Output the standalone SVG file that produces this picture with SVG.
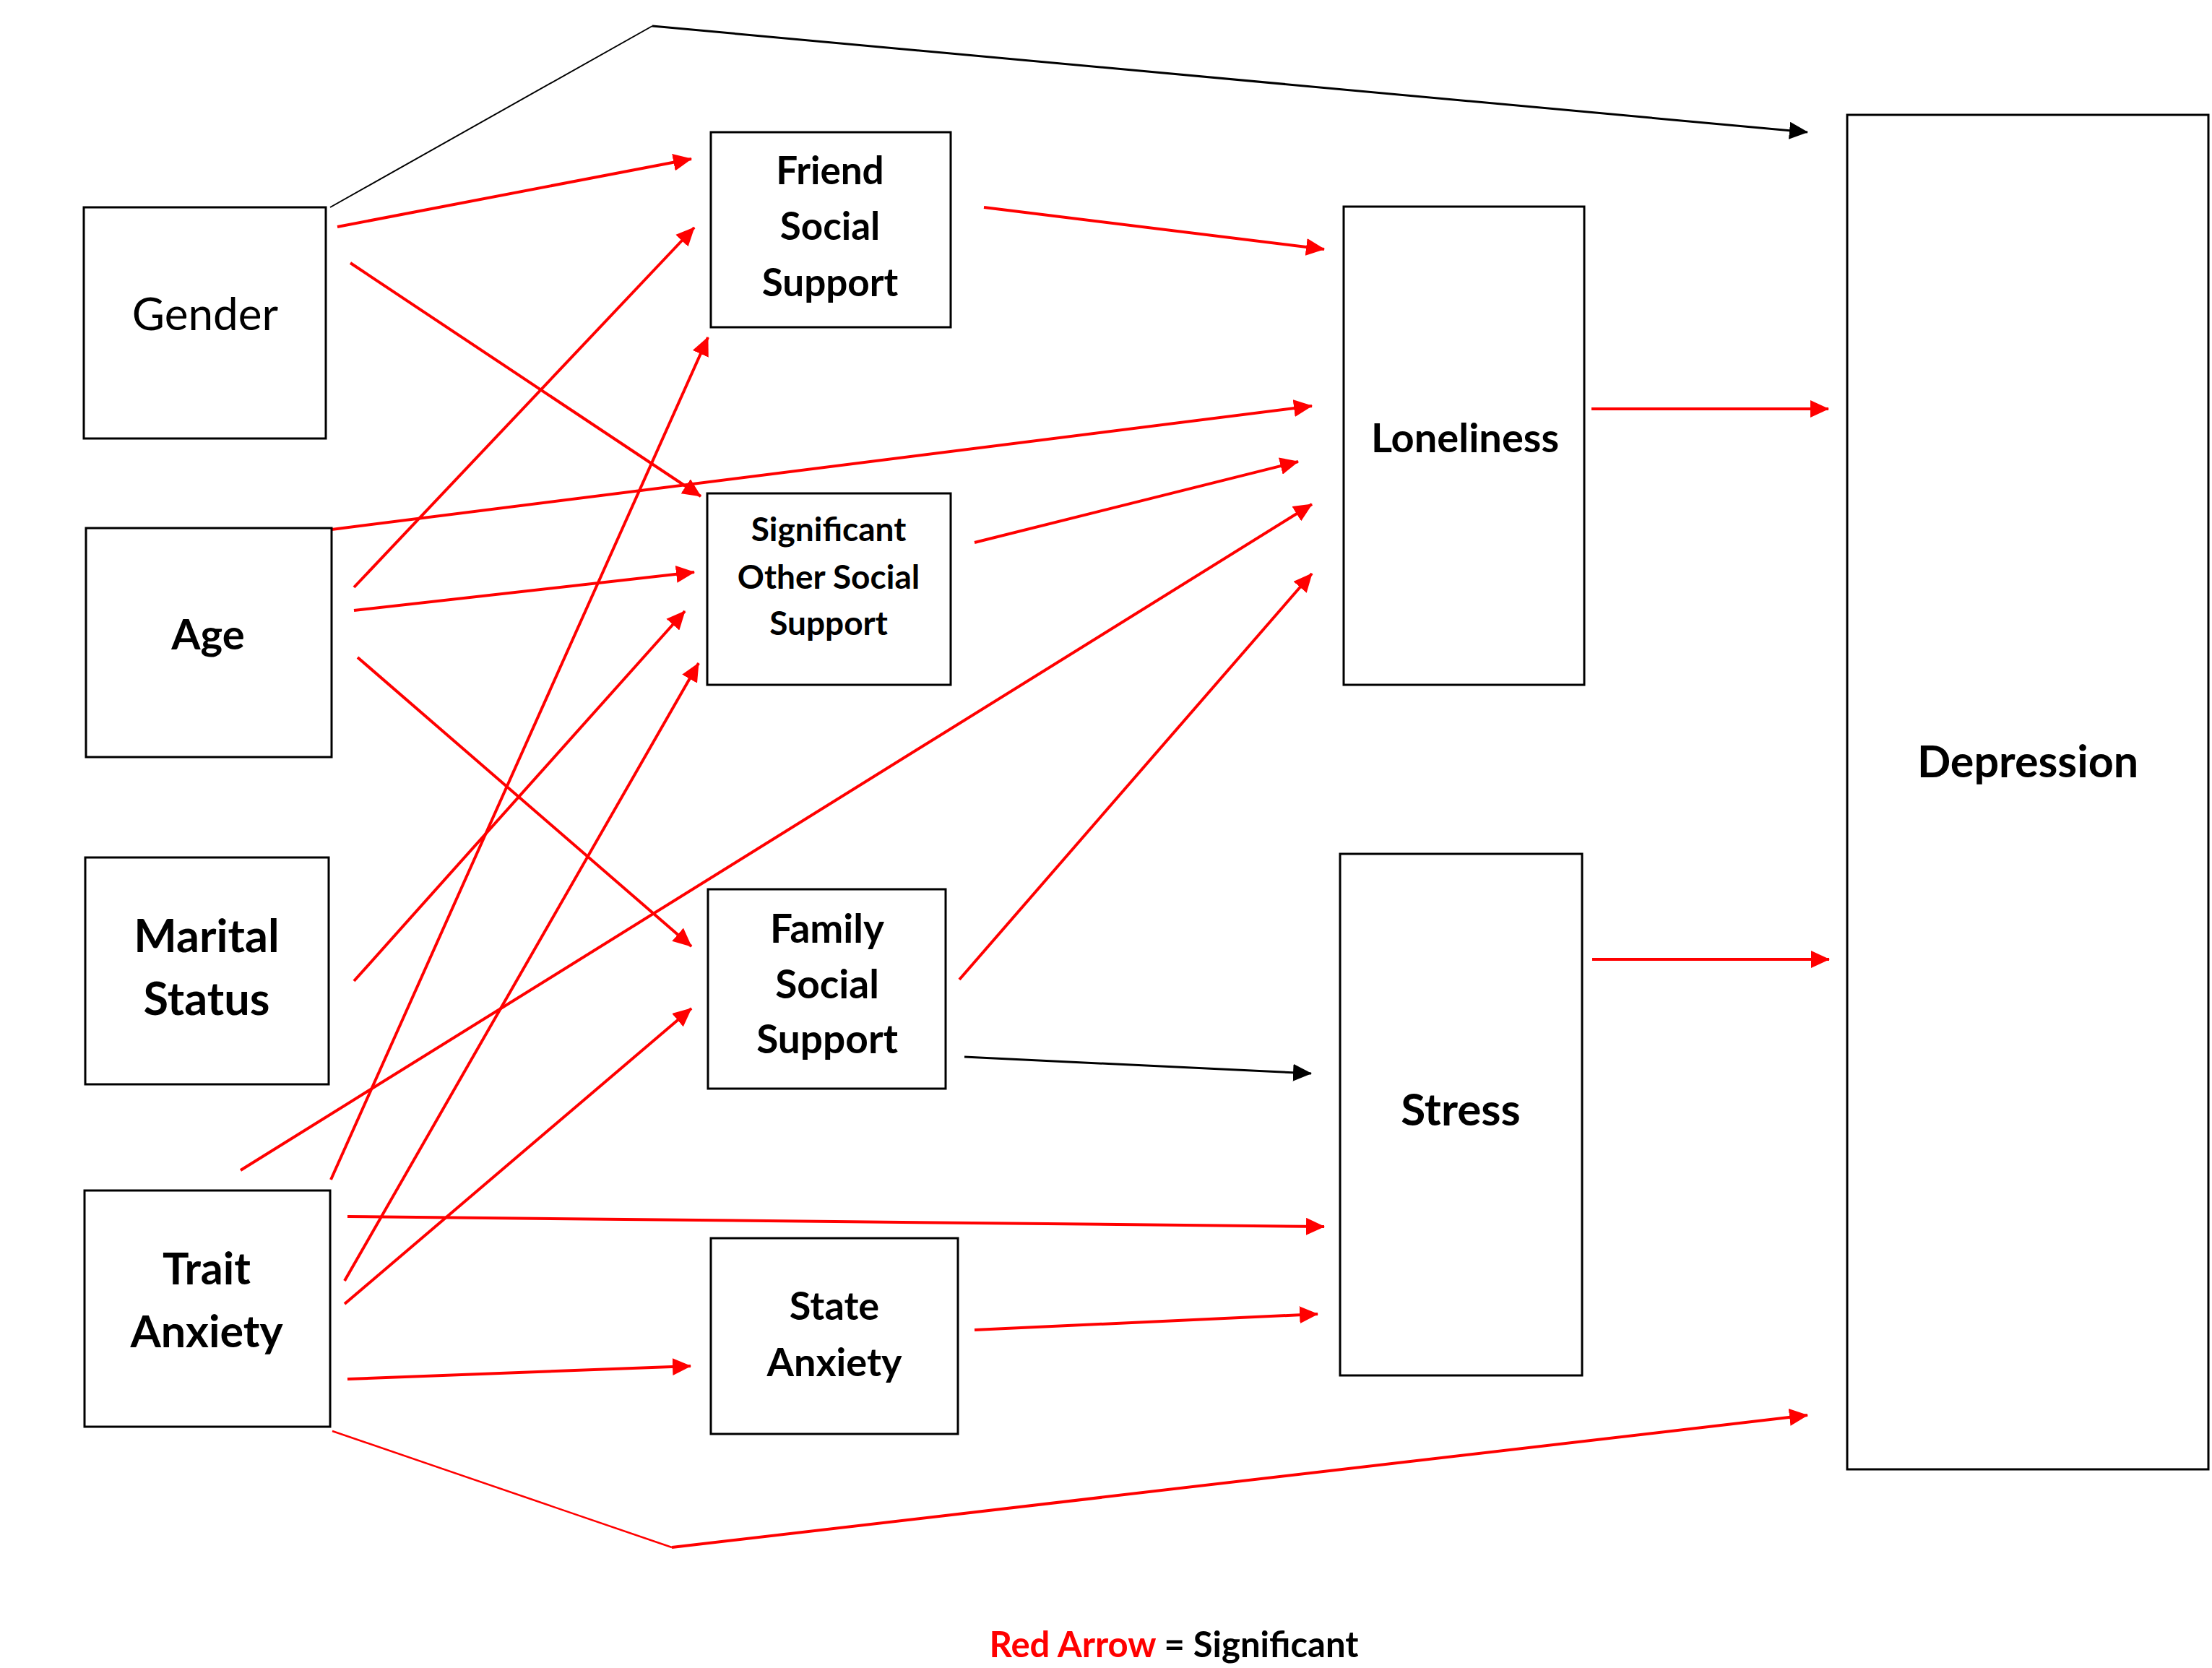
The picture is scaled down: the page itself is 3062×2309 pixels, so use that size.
<svg xmlns="http://www.w3.org/2000/svg" width="3062" height="2309" viewBox="0 0 3062 2309">
<style>
.box{fill:#fff;stroke:#000;stroke-width:3}
.t{font-family:Lato,"Open Sans","Liberation Sans",sans-serif;font-weight:700;fill:#000;text-anchor:middle}
.r{fill:none;stroke:#ff0000;stroke-width:4}
.rt{fill:none;stroke:#ff0000;stroke-width:2.5}
.k{fill:none;stroke:#000;stroke-width:3}
.kt{fill:none;stroke:#000;stroke-width:2}
</style>
<defs>
<marker id="ar" markerUnits="userSpaceOnUse" markerWidth="26" markerHeight="24" viewBox="0 0 26 24" refX="25" refY="12" orient="auto"><path d="M0,0 L26,12 L0,24 z" fill="#ff0000"/></marker>
<marker id="ak" markerUnits="userSpaceOnUse" markerWidth="26" markerHeight="24" viewBox="0 0 26 24" refX="25" refY="12" orient="auto"><path d="M0,0 L26,12 L0,24 z" fill="#000"/></marker>
</defs>
<rect width="3062" height="2309" fill="#fff"/>
<g id="connectors">
<polyline class="kt" points="457,287 903,36"/>
<line class="k" x1="903" y1="36" x2="2502" y2="183" marker-end="url(#ak)"/>
<line class="r" x1="467" y1="314" x2="957" y2="220" marker-end="url(#ar)"/>
<line class="r" x1="485" y1="364" x2="970" y2="687" marker-end="url(#ar)"/>
<line class="r" x1="459" y1="733" x2="1816" y2="562" marker-end="url(#ar)"/>
<line class="r" x1="490" y1="813" x2="961" y2="315" marker-end="url(#ar)"/>
<line class="r" x1="490" y1="845" x2="961" y2="792" marker-end="url(#ar)"/>
<line class="r" x1="495" y1="910" x2="957" y2="1310" marker-end="url(#ar)"/>
<line class="r" x1="490" y1="1358" x2="948" y2="846" marker-end="url(#ar)"/>
<line class="r" x1="458" y1="1633" x2="980" y2="467" marker-end="url(#ar)"/>
<line class="r" x1="477" y1="1773" x2="967" y2="918" marker-end="url(#ar)"/>
<line class="r" x1="477" y1="1805" x2="957" y2="1396" marker-end="url(#ar)"/>
<line class="r" x1="333" y1="1620" x2="1816" y2="698" marker-end="url(#ar)"/>
<line class="r" x1="481" y1="1684" x2="1833" y2="1698" marker-end="url(#ar)"/>
<line class="r" x1="481" y1="1909" x2="956" y2="1891" marker-end="url(#ar)"/>
<polyline class="rt" points="460,1981 930,2142"/>
<line class="r" x1="930" y1="2142" x2="2502" y2="1959" marker-end="url(#ar)"/>
<line class="r" x1="1362" y1="287" x2="1833" y2="345" marker-end="url(#ar)"/>
<line class="r" x1="1349" y1="751" x2="1797" y2="639" marker-end="url(#ar)"/>
<line class="r" x1="1328" y1="1356" x2="1816" y2="794" marker-end="url(#ar)"/>
<line class="k" x1="1335" y1="1463" x2="1815" y2="1486" marker-end="url(#ak)"/>
<line class="r" x1="1349" y1="1841" x2="1824" y2="1819" marker-end="url(#ar)"/>
<line class="r" x1="2203" y1="566" x2="2531" y2="566" marker-end="url(#ar)"/>
<line class="r" x1="2204" y1="1328" x2="2532" y2="1328" marker-end="url(#ar)"/>
</g>
<g id="gender"><rect class="box" x="116" y="287" width="335" height="320"/><text class="t" x="284" y="457" font-size="62" style="font-weight:400">Gender</text></g>
<g id="age"><rect class="box" x="119" y="731" width="340" height="317"/><text class="t" x="288" y="899" font-size="58">Age</text></g>
<g id="marital"><rect class="box" x="118" y="1187" width="337" height="314"/><text class="t" x="286" y="1318" font-size="63">Marital</text><text class="t" x="286" y="1405" font-size="63">Status</text></g>
<g id="trait"><rect class="box" x="117" y="1648" width="340" height="327"/><text class="t" x="286" y="1778" font-size="61">Trait</text><text class="t" x="286" y="1865" font-size="61">Anxiety</text></g>
<g id="friend"><rect class="box" x="984" y="183" width="332" height="270"/><text class="t" x="1149" y="255" font-size="53">Friend</text><text class="t" x="1149" y="332" font-size="53">Social</text><text class="t" x="1149" y="410" font-size="53">Support</text></g>
<g id="significant"><rect class="box" x="979" y="683" width="337" height="265"/><text class="t" x="1147" y="749" font-size="46">Significant</text><text class="t" x="1147" y="815" font-size="46">Other Social</text><text class="t" x="1147" y="879" font-size="46">Support</text></g>
<g id="family"><rect class="box" x="980" y="1231" width="329" height="276"/><text class="t" x="1145" y="1305" font-size="55">Family</text><text class="t" x="1145" y="1382" font-size="55">Social</text><text class="t" x="1145" y="1458" font-size="55">Support</text></g>
<g id="state"><rect class="box" x="984" y="1714" width="342" height="271"/><text class="t" x="1155" y="1827" font-size="54">State</text><text class="t" x="1155" y="1905" font-size="54">Anxiety</text></g>
<g id="loneliness"><rect class="box" x="1860" y="286" width="333" height="662"/><text class="t" x="2028" y="626" font-size="56">Loneliness</text></g>
<g id="stress"><rect class="box" x="1855" y="1182" width="335" height="722"/><text class="t" x="2022" y="1558" font-size="62">Stress</text></g>
<g id="depression"><rect class="box" x="2557" y="159" width="500" height="1875"/><text class="t" x="2807" y="1076" font-size="61">Depression</text></g>
<g id="legend"><text class="t" x="1625" y="2294" font-size="49"><tspan fill="#ff0000">Red Arrow</tspan> = Significant</text></g>
</svg>
